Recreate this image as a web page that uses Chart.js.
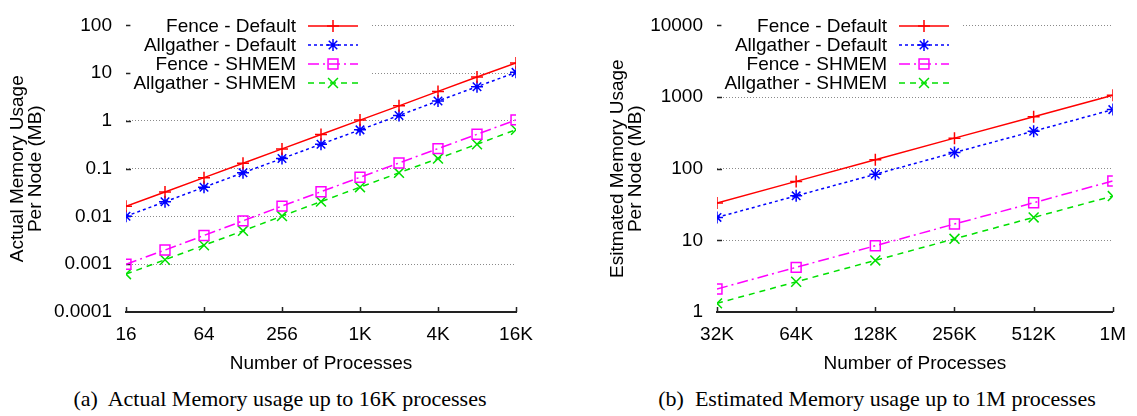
<!DOCTYPE html>
<html>
<head>
<meta charset="utf-8">
<script src="https://cdn.jsdelivr.net/npm/chart.js@4/dist/chart.umd.min.js"></script>
<style>
  body { margin: 0; background: #fff; width: 1137px; height: 416px; position: relative; overflow: hidden; }
  canvas { position: absolute; top: 0; }
  #leftChart { left: 0; }
  #rightChart { left: 568px; }
  .caption { position: absolute; top: 386px; width: 560px; text-align: center;
    font-family: "Liberation Serif", "Times New Roman", serif; font-size: 22px; line-height: 26px; color: #000; }
</style>
</head>
<body>
<canvas id="leftChart" width="568" height="380"></canvas>
<canvas id="rightChart" width="569" height="380"></canvas>
<div class="caption" style="left:0">(a)&nbsp; Actual Memory usage up to 16K processes</div>
<div class="caption" style="left:597px">(b)&nbsp; Estimated Memory usage up to 1M processes</div>
<script>
// data
const seriesNames = ['Fence - Default', 'Allgather - Default', 'Fence - SHMEM', 'Allgather - SHMEM'];

// (a) actual, 16 .. 16K processes
const procsA = [16, 32, 64, 128, 256, 512, 1024, 2048, 4096, 8192, 16384];
const fenceDefaultA = [0.0163, 0.0326, 0.065, 0.13, 0.26, 0.52, 1.04, 2.07, 4.15, 8.3, 16.3];
const allgatherDefaultA = [0.0101, 0.0203, 0.041, 0.082, 0.163, 0.326, 0.65, 1.3, 2.62, 5.2, 10.4];
const fenceShmemA = [0.001, 0.00198, 0.004, 0.0081, 0.0165, 0.033, 0.066, 0.132, 0.263, 0.525, 1.05];
const allgatherShmemA = [0.00062, 0.00124, 0.0025, 0.005, 0.0102, 0.0205, 0.041, 0.082, 0.163, 0.325, 0.655];
const xTicksA = [16, 64, 256, 1024, 4096, 16384];
const yTicksA = [0.0001, 0.001, 0.01, 0.1, 1, 10, 100];

// (b) estimated, 32K .. 1M processes
const procsB = [32768, 65536, 131072, 262144, 524288, 1048576];
const fenceDefaultB = [33.3, 66.5, 133, 267, 532, 1060];
const allgatherDefaultB = [20.9, 41.8, 83.5, 168, 334, 668];
const fenceShmemB = [2.09, 4.2, 8.4, 16.9, 33.5, 67.5];
const allgatherShmemB = [1.32, 2.64, 5.25, 10.5, 20.9, 41.5];
const xTicksB = [32768, 65536, 131072, 262144, 524288, 1048576];
const yTicksB = [1, 10, 100, 1000, 10000];

const SANS = '"Liberation Sans", Arial, Helvetica, sans-serif';
const FS = 19;

const styles = [
  { borderColor: '#ff0000', borderDash: [], pointStyle: 'cross', pointRadius: 6 },
  { borderColor: '#0000ff', borderDash: [3, 3], pointStyle: 'star', pointRadius: 6 },
  { borderColor: '#ff00ff', borderDash: [11, 4, 2, 4], pointStyle: 'rect', pointRadius: 7 },
  { borderColor: '#00e000', borderDash: [6, 5], pointStyle: 'crossRot', pointRadius: 7 }
];

function fmtProcs(v) {
  if (v >= 1048576) return (v / 1048576) + 'M';
  if (v >= 1024) return (v / 1024) + 'K';
  return String(v);
}

function makeSets(xs, ys) {
  return ys.map((vals, i) => ({
    label: seriesNames[i],
    data: vals.map((y, j) => ({ x: xs[j], y: y })),
    borderColor: styles[i].borderColor,
    borderDash: styles[i].borderDash,
    borderWidth: 1.5,
    backgroundColor: 'rgba(0,0,0,0)',
    pointStyle: styles[i].pointStyle,
    pointRadius: styles[i].pointRadius,
    pointBorderColor: styles[i].borderColor,
    pointBackgroundColor: 'rgba(0,0,0,0)',
    pointBorderWidth: 1.5,
    tension: 0
  }));
}

// gnuplot-style key: right aligned text, sample line on the right, white box
const keyPlugin = {
  id: 'key',
  afterDatasetsDraw(chart, args, opts) {
    const ctx = chart.ctx;
    ctx.save();
    ctx.font = FS + 'px ' + SANS;
    const sets = chart.data.datasets;
    const w = Math.max(...sets.map(d => ctx.measureText(d.label).width));
    ctx.fillStyle = '#fff';
    ctx.fillRect(opts.textRight - w - 3, opts.top - 10, w + 3 + 74, sets.length * opts.rowH + 2);
    sets.forEach((d, i) => {
      const y = opts.top + i * opts.rowH;
      ctx.fillStyle = '#000';
      ctx.textAlign = 'right';
      ctx.textBaseline = 'middle';
      ctx.fillText(d.label, opts.textRight, y + 1);
      ctx.strokeStyle = d.borderColor;
      ctx.lineWidth = d.borderWidth;
      ctx.setLineDash(d.borderDash);
      ctx.beginPath();
      ctx.moveTo(opts.textRight + 12, y);
      ctx.lineTo(opts.textRight + 62, y);
      ctx.stroke();
      ctx.setLineDash([]);
      ctx.fillStyle = 'rgba(0,0,0,0)';
      Chart.helpers.drawPoint(ctx, { pointStyle: d.pointStyle, radius: d.pointRadius, borderWidth: d.pointBorderWidth, rotation: 0 }, opts.textRight + 37, y);
    });
    ctx.restore();
  }
};

// small inward tick marks like gnuplot
const tickPlugin = {
  id: 'inticks',
  beforeDatasetsDraw(chart) {
    const ctx = chart.ctx;
    const area = chart.chartArea;
    const xs = chart.scales.x, ys = chart.scales.y;
    ctx.save();
    ctx.strokeStyle = '#222';
    ctx.lineWidth = 1.5;
    ctx.beginPath();
    xs.ticks.forEach(t => {
      const px = Math.round(xs.getPixelForValue(t.value)) + 0.5;
      ctx.moveTo(px, area.bottom);
      ctx.lineTo(px, area.bottom - 5);
    });
    ys.ticks.forEach(t => {
      const py = Math.round(ys.getPixelForValue(t.value)) + 0.5;
      if (py > area.bottom - 2) return;
      ctx.moveTo(area.left, py);
      ctx.lineTo(area.left + 5, py);
    });
    ctx.stroke();
    ctx.restore();
  }
};

function buildChart(id, xs, ys, xMin, xMax, xTicks, yMin, yMax, yTicks, yTitle, padLeft, padRight, yWidth, keyRight) {
  return new Chart(document.getElementById(id), {
    type: 'line',
    data: { datasets: makeSets(xs, ys) },
    plugins: [tickPlugin, keyPlugin],
    options: {
      responsive: false,
      animation: false,
      devicePixelRatio: 1,
      layout: { padding: { left: padLeft, right: padRight, top: 12, bottom: 0 } },
      plugins: {
        legend: { display: false },
        tooltip: { enabled: false },
        key: { textRight: keyRight, top: 26, rowH: 19 }
      },
      scales: {
        x: {
          type: 'logarithmic',
          min: xMin,
          max: xMax,
          bounds: 'data',
          afterBuildTicks: s => { s.ticks = xTicks.map(v => ({ value: v })); },
          afterFit: s => { s.height = 68; },
          grid: { display: false, drawTicks: false },
          border: { display: true, color: '#222', width: 2 },
          ticks: {
            color: '#000',
            font: { family: SANS, size: FS },
            padding: 11,
            maxRotation: 0,
            autoSkip: false,
            callback: v => fmtProcs(v)
          },
          title: {
            display: true,
            text: 'Number of Processes',
            color: '#000',
            font: { family: SANS, size: FS, lineHeight: '18px' },
            padding: { top: 0, bottom: 7 }
          }
        },
        y: {
          type: 'logarithmic',
          min: yMin,
          max: yMax,
          bounds: 'data',
          afterBuildTicks: s => { s.ticks = yTicks.map(v => ({ value: v })); },
          afterFit: s => { s.width = yWidth; },
          grid: { color: '#8a8a8a', lineWidth: 1, drawTicks: false },
          border: { display: false, dash: [1, 2] },
          ticks: {
            color: '#000',
            font: { family: SANS, size: FS },
            padding: 14,
            autoSkip: false,
            callback: v => String(v)
          },
          title: {
            display: true,
            text: yTitle,
            color: '#000',
            font: { family: SANS, size: FS, lineHeight: '18px' },
            padding: { top: 9, bottom: 0 }
          }
        }
      }
    }
  });
}

buildChart('leftChart', procsA,
  [fenceDefaultA, allgatherDefaultA, fenceShmemA, allgatherShmemA],
  16, 16384, xTicksA, 0.0001, 100, yTicksA,
  ['Actual Memory Usage', 'Per Node (MB)'], 0, 52, 126, 296);

buildChart('rightChart', procsB,
  [fenceDefaultB, allgatherDefaultB, fenceShmemB, allgatherShmemB],
  32768, 1048576, xTicksB, 1, 10000, yTicksB,
  ['Esitmated Memory Usage', 'Per Node (MB)'], 32, 20, 117, 319);
</script>
</body>
</html>
